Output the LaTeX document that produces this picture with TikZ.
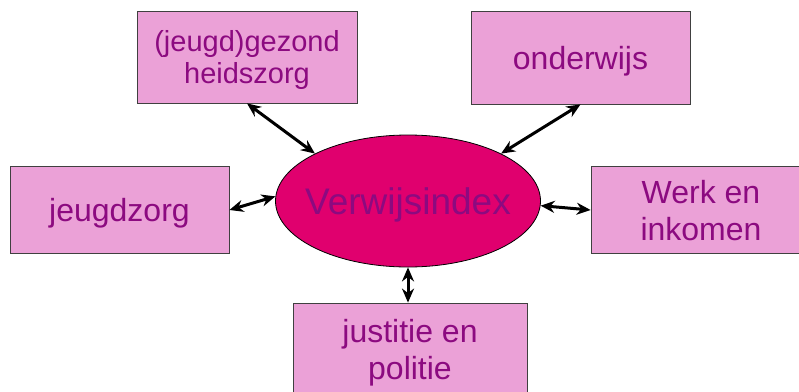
\documentclass[tikz,border=0pt]{standalone}
\usepackage{fontspec}
\setmainfont{Liberation Sans}
\usetikzlibrary{arrows.meta, shapes.geometric}
\definecolor{BoxPink}{HTML}{EBA1D7}
\definecolor{TxtPurple}{HTML}{8C0A80}
\definecolor{HubMagenta}{HTML}{E0006E}

\begin{document}
\begin{tikzpicture}[x=1pt, y=-1pt,
    areabox/.style={draw=black!75, line width=0.8pt, fill=BoxPink, text=TxtPurple,
        align=center, inner sep=0pt, text depth=0pt, minimum width=220pt, minimum height=87pt,
        font=\fontsize{32}{37}\selectfont},
    link/.style={{Stealth[length=14pt, width=12pt]}-{Stealth[length=14pt, width=12pt]},
        line width=3pt, black}]
    \useasboundingbox (0,0) rectangle (799,391);

    % Central hub
    \node[ellipse, draw=black, line width=0.8pt, fill=HubMagenta,
        minimum width=265pt, minimum height=132pt, inner sep=0pt] (vi) at (408,201) {};
    \node[text=TxtPurple, inner sep=0pt, text depth=0pt,
        font=\fontsize{37}{44}\selectfont] (vitext) at (vi.center) {Verwijsindex};

    % Domains around the hub
    \node[areabox, minimum height=92pt, font=\fontsize{29}{32}\selectfont] (gez) at (247,57)
        {(jeugd)gezond\\heidszorg};
    \node[areabox, minimum width=219pt, minimum height=93pt] (ond) at (580.5,57.5) {onderwijs};
    \node[areabox, minimum width=219pt] (jz) at (119.5,210) {jeugdzorg};
    \node[areabox] (werk) at (701,210) {Werk en\\inkomen};
    \node[areabox, minimum width=234pt, minimum height=92pt] (jus) at (410,349) {justitie en\\politie};

    % Links
    \draw[link] (gez.south) -- (vi.153);
    \draw[link] (ond.south) -- (vi.27);
    \draw[link] (jz.east) -- (vi.178);
    \draw[link] (vi.-2) -- (werk.west);
    \draw[link] (vi.south) -- (vi.south |- jus.north);

\end{tikzpicture}
\end{document}
